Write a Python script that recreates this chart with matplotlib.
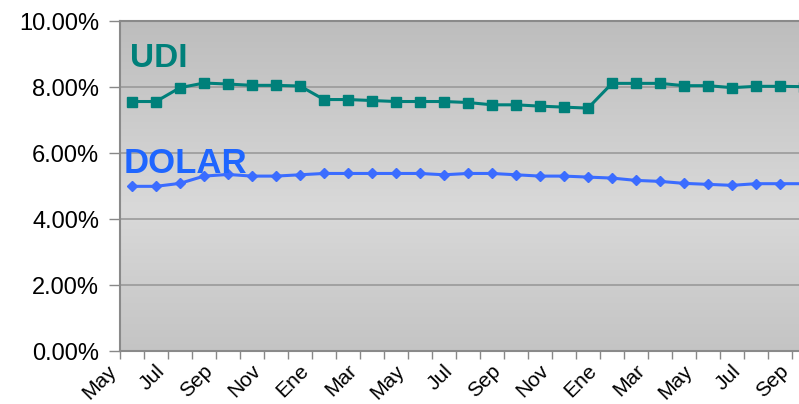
import numpy as np
import matplotlib
matplotlib.use("Agg")
import matplotlib.pyplot as plt
import matplotlib.transforms as mtransforms
from matplotlib.colors import LinearSegmentedColormap
from matplotlib.ticker import FuncFormatter

plt.rcParams['font.family'] = ['Liberation Sans', 'DejaVu Sans']

# monthly series, May (year 1) .. Sep (year 3)
udi = [7.56, 7.56, 7.98, 8.12, 8.09, 8.05, 8.05, 8.03, 7.62, 7.62,
       7.59, 7.56, 7.56, 7.56, 7.53, 7.46, 7.46, 7.42, 7.39, 7.36,
       8.11, 8.11, 8.11, 8.04, 8.04, 7.98, 8.02, 8.02, 8.01]
dolar = [4.99, 4.99, 5.08, 5.30, 5.35, 5.30, 5.30, 5.34, 5.38, 5.38,
         5.38, 5.38, 5.38, 5.34, 5.38, 5.38, 5.34, 5.30, 5.30, 5.27,
         5.24, 5.17, 5.14, 5.08, 5.05, 5.02, 5.07, 5.07, 5.07]
month_labels = ['May', 'Jul', 'Sep', 'Nov', 'Ene', 'Mar', 'May', 'Jul',
                'Sep', 'Nov', 'Ene', 'Mar', 'May', 'Jul', 'Sep']

n = len(udi)
x = np.arange(n)

fig = plt.figure(figsize=(7.99, 4.04), dpi=100)
# axes runs past the right edge like the original (cropped chart)
ax = fig.add_axes([120/799, 53/404, 29*24/799, 330/404])

# gray gradient background: darker top, lighter middle, darker bottom
cmap = LinearSegmentedColormap.from_list(
    'bg', [(0, '#c4c4c4'), (0.43, '#d9d9d9'), (1, '#bdbdbd')])
grad = np.linspace(0, 1, 256).reshape(-1, 1)
ax.imshow(grad, extent=[0, 1, 0, 1], transform=ax.transAxes, cmap=cmap,
          aspect='auto', origin='lower', zorder=0)

ax.set_xlim(-0.5, n - 0.5)
ax.set_ylim(0, 10)

ax.yaxis.grid(True, color='#9a9a9a', linewidth=1.2, zorder=1)
ax.set_axisbelow(True)

ax.plot(x, udi, color='#00807a', linewidth=2.2, marker='s', markersize=7.5,
        zorder=3)
ax.plot(x, dolar, color='#3b6cff', linewidth=2.2, marker='D', markersize=5.5,
        zorder=3)

ax.text(-0.1, 8.85, 'UDI', color='#00807a', fontsize=24, fontweight='bold',
        va='center', ha='left', zorder=4)
ax.text(-0.36, 5.68, 'DOLAR', color='#1f66ff', fontsize=25, fontweight='bold',
        va='center', ha='left', zorder=4)

ax.set_yticks(np.arange(0, 11, 2))
ax.yaxis.set_major_formatter(FuncFormatter(lambda v, p: f'{v:.2f}%'))
ax.tick_params(axis='y', labelsize=17, length=8, width=1, color='#888888',
               pad=7)

ax.set_xticks(x[::2])
ax.set_xticklabels(month_labels, rotation=45, ha='right', va='top',
                   rotation_mode='anchor', fontsize=15)
ax.set_xticks(np.arange(-0.5, n, 1), minor=True)
ax.tick_params(axis='x', which='major', length=0, pad=6)
ax.tick_params(axis='x', which='minor', length=6, width=1, color='#888888')
offset = mtransforms.ScaledTranslation(-25/100, -2/100, fig.dpi_scale_trans)
for lab in ax.get_xticklabels():
    lab.set_transform(lab.get_transform() + offset)

for side in ['left', 'bottom', 'top']:
    ax.spines[side].set_color('#8a8a8a')
    ax.spines[side].set_linewidth(1.5)
ax.spines['right'].set_visible(False)

fig.savefig('out.png', dpi=100)
